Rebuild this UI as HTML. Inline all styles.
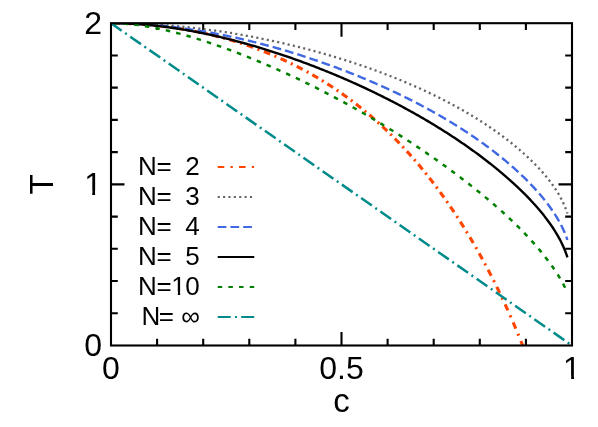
<!DOCTYPE html>
<html><head><meta charset="utf-8"><title>T vs c</title>
<style>html,body{margin:0;padding:0;background:#fff;width:598px;height:427px;overflow:hidden;font-family:"Liberation Sans",sans-serif}</style>
</head><body>
<svg width="598" height="427" viewBox="0 0 598 427" style="position:absolute;left:0;top:0;will-change:transform">
<rect width="598" height="427" fill="#fff"/>
<defs><clipPath id="cp"><rect x="111.0" y="23.2" width="461.0" height="322.3"/></clipPath></defs>
<g stroke="#000" stroke-width="2.1" fill="none" stroke-linecap="butt">
<path d="M157.10,345.5 v-6.8 M157.10,23.2 v6.8"/>
<path d="M203.20,345.5 v-6.8 M203.20,23.2 v6.8"/>
<path d="M249.30,345.5 v-6.8 M249.30,23.2 v6.8"/>
<path d="M295.40,345.5 v-6.8 M295.40,23.2 v6.8"/>
<path d="M341.50,345.5 v-13.5 M341.50,23.2 v13.5"/>
<path d="M387.60,345.5 v-6.8 M387.60,23.2 v6.8"/>
<path d="M433.70,345.5 v-6.8 M433.70,23.2 v6.8"/>
<path d="M479.80,345.5 v-6.8 M479.80,23.2 v6.8"/>
<path d="M525.90,345.5 v-6.8 M525.90,23.2 v6.8"/>
<path d="M111.0,313.27 h6.8 M572.0,313.27 h-6.8"/>
<path d="M111.0,281.04 h6.8 M572.0,281.04 h-6.8"/>
<path d="M111.0,248.81 h6.8 M572.0,248.81 h-6.8"/>
<path d="M111.0,216.58 h6.8 M572.0,216.58 h-6.8"/>
<path d="M111.0,184.35 h13.5 M572.0,184.35 h-13.5"/>
<path d="M111.0,152.12 h6.8 M572.0,152.12 h-6.8"/>
<path d="M111.0,119.89 h6.8 M572.0,119.89 h-6.8"/>
<path d="M111.0,87.66 h6.8 M572.0,87.66 h-6.8"/>
<path d="M111.0,55.43 h6.8 M572.0,55.43 h-6.8"/>
</g>
<g fill="none" clip-path="url(#cp)">
<path d="M111.00,23.20 L111.41,23.20 L111.83,23.20 L112.24,23.20 L112.66,23.20 L113.07,23.21 M117.57,23.25 L117.99,23.25 L118.41,23.26 L118.83,23.27 L119.25,23.27 L119.67,23.28 M124.17,23.39 L125.51,23.43 L126.85,23.48 L128.19,23.53 L129.53,23.58 L130.87,23.64 M135.36,23.86 L135.78,23.88 L136.20,23.90 L136.62,23.93 L137.04,23.95 L137.46,23.98 M141.95,24.26 L143.28,24.36 L144.62,24.46 L145.96,24.56 L147.29,24.67 L148.63,24.78 M153.11,25.18 L153.53,25.22 L153.95,25.27 L154.36,25.31 L154.78,25.35 L155.20,25.39 M159.67,25.86 L161.01,26.01 L162.34,26.17 L163.67,26.32 L165.00,26.49 L166.33,26.65 M170.79,27.24 L171.20,27.30 L171.62,27.36 L172.04,27.42 L172.45,27.48 L172.87,27.54 M177.32,28.20 L178.64,28.40 L179.97,28.61 L181.29,28.83 L182.61,29.04 L183.93,29.27 M188.37,30.05 L188.78,30.12 L189.19,30.20 L189.61,30.27 L190.02,30.35 L190.43,30.43 M194.85,31.28 L196.16,31.54 L197.48,31.80 L198.79,32.08 L200.10,32.35 L201.41,32.63 M205.81,33.60 L206.22,33.69 L206.62,33.79 L207.03,33.88 L207.44,33.97 L207.85,34.07 M212.23,35.11 L213.53,35.43 L214.83,35.75 L216.13,36.08 L217.43,36.41 L218.73,36.75 M223.07,37.91 L223.48,38.02 L223.88,38.13 L224.29,38.25 L224.69,38.36 L225.10,38.47 M229.43,39.70 L230.71,40.08 L232.00,40.46 L233.28,40.85 L234.56,41.24 L235.84,41.63 M240.13,42.99 L240.53,43.12 L240.93,43.25 L241.33,43.38 L241.73,43.51 L242.13,43.64 M246.73,45.18 L248.00,45.61 L249.26,46.05 L250.53,46.50 L251.79,46.95 L253.05,47.40 M257.55,49.05 L257.94,49.20 L258.33,49.35 L258.72,49.50 L259.12,49.65 L259.51,49.80 M263.92,51.51 L265.16,52.01 L266.41,52.51 L267.65,53.01 L268.89,53.52 L270.13,54.03 M274.43,55.85 L274.82,56.02 L275.20,56.18 L275.59,56.35 L275.97,56.52 L276.36,56.69 M280.58,58.56 L281.80,59.12 L283.02,59.68 L284.23,60.24 L285.45,60.81 L286.66,61.38 M290.78,63.36 L291.16,63.54 L291.54,63.73 L291.91,63.91 L292.29,64.10 L292.67,64.28 M296.71,66.32 L297.91,66.93 L299.10,67.55 L300.28,68.17 L301.47,68.79 L302.65,69.42 M306.60,71.55 L306.97,71.76 L307.34,71.96 L307.70,72.16 L308.07,72.37 L308.44,72.57 M312.31,74.76 L313.48,75.42 L314.64,76.09 L315.79,76.77 L316.95,77.45 L318.10,78.13 M321.88,80.42 L322.24,80.64 L322.60,80.86 L322.95,81.08 L323.31,81.30 L323.67,81.52 M327.38,83.86 L328.51,84.58 L329.64,85.30 L330.76,86.03 L331.88,86.77 L333.00,87.50 M336.62,89.93 L336.97,90.17 L337.31,90.41 L337.66,90.64 L338.01,90.88 L338.35,91.12 M341.91,93.60 L343.01,94.37 L344.10,95.15 L345.19,95.93 L346.27,96.72 L347.35,97.51 M350.82,100.08 L351.16,100.33 L351.50,100.58 L351.83,100.83 L352.17,101.09 L352.50,101.34 M355.91,103.96 L356.97,104.78 L358.03,105.61 L359.08,106.44 L360.13,107.28 L361.17,108.11 M364.50,110.82 L364.82,111.09 L365.15,111.36 L365.47,111.63 L365.79,111.89 L366.12,112.16 M369.39,114.92 L370.41,115.79 L371.43,116.67 L372.44,117.54 L373.45,118.42 L374.46,119.31 M377.65,122.15 L377.96,122.43 L378.27,122.72 L378.59,123.00 L378.90,123.28 L379.21,123.56 M382.35,126.46 L383.33,127.37 L384.31,128.29 L385.29,129.21 L386.26,130.13 L387.22,131.06 M390.29,134.04 L390.59,134.34 L390.89,134.63 L391.19,134.93 L391.49,135.22 L391.79,135.52 M394.82,138.55 L395.76,139.50 L396.70,140.46 L397.63,141.42 L398.56,142.38 L399.49,143.35 M402.45,146.47 L402.74,146.77 L403.02,147.08 L403.31,147.39 L403.60,147.69 L403.88,148.00 M406.80,151.17 L407.70,152.16 L408.60,153.16 L409.50,154.15 L410.39,155.15 L411.28,156.16 M414.13,159.41 L414.41,159.73 L414.68,160.04 L414.96,160.36 L415.23,160.68 L415.51,161.00 M418.33,164.31 L419.19,165.33 L420.05,166.36 L420.91,167.39 L421.76,168.42 L422.61,169.46 M425.37,172.85 L425.63,173.18 L425.90,173.51 L426.16,173.83 L426.42,174.16 L426.68,174.49 M429.41,177.94 L430.24,179.00 L431.06,180.06 L431.88,181.12 L432.70,182.18 L433.51,183.24 M436.19,186.78 L436.44,187.12 L436.69,187.45 L436.94,187.79 L437.19,188.13 L437.44,188.46 M440.09,192.06 L440.88,193.15 L441.67,194.23 L442.45,195.32 L443.23,196.41 L444.01,197.50 M446.60,201.18 L446.84,201.53 L447.08,201.87 L447.32,202.22 L447.56,202.56 L447.80,202.91 M450.38,206.66 L451.13,207.77 L451.88,208.88 L452.63,209.99 L453.38,211.10 L454.12,212.22 M456.65,216.06 L456.88,216.41 L457.11,216.76 L457.34,217.11 L457.57,217.47 L457.79,217.82 M460.31,221.73 L461.03,222.86 L461.74,223.99 L462.46,225.13 L463.17,226.26 L463.88,227.40 M466.34,231.40 L466.56,231.76 L466.78,232.12 L467.00,232.48 L467.22,232.84 L467.44,233.19 M469.89,237.27 L470.58,238.42 L471.26,239.58 L471.94,240.73 L472.62,241.89 L473.30,243.04 M475.71,247.22 L475.92,247.58 L476.13,247.94 L476.34,248.31 L476.55,248.67 L476.75,249.04 M479.16,253.29 L479.81,254.46 L480.46,255.63 L481.11,256.81 L481.76,257.98 L482.40,259.15 M484.76,263.51 L484.96,263.88 L485.16,264.25 L485.36,264.62 L485.56,264.99 L485.76,265.36 M488.11,269.80 L488.73,270.99 L489.35,272.17 L489.97,273.36 L490.59,274.55 L491.20,275.75 M493.52,280.29 L493.71,280.67 L493.90,281.04 L494.09,281.42 L494.27,281.79 L494.46,282.17 M496.77,286.81 L497.36,288.01 L497.95,289.21 L498.54,290.42 L499.12,291.62 L499.70,292.83 M501.97,297.58 L502.15,297.96 L502.33,298.34 L502.51,298.72 L502.69,299.10 L502.87,299.48 M505.13,304.33 L505.69,305.55 L506.24,306.77 L506.80,307.99 L507.35,309.21 L507.91,310.43 M510.12,315.40 L510.29,315.78 L510.46,316.17 L510.63,316.55 L510.80,316.94 L510.97,317.32 M513.17,322.40 L513.70,323.63 L514.23,324.86 L514.75,326.10 L515.27,327.33 L515.79,328.57 M517.95,333.77 L518.11,334.16 L518.27,334.55 L518.42,334.94 L518.58,335.33 L518.74,335.71 M520.88,341.04 L521.37,342.28 L521.87,343.53 L522.35,344.78 L522.84,346.02 L523.33,347.27" stroke="#ff4500" stroke-width="3.1"/>
<path d="M111.00,23.20 L112.83,23.20 L114.65,23.21 L116.48,23.22 L118.30,23.24 L120.12,23.26 L121.93,23.28 L123.74,23.31 L125.55,23.35 L127.36,23.39 L129.16,23.43 L130.96,23.48 L132.76,23.53 L134.56,23.59 L136.35,23.65 L138.14,23.71 L139.93,23.78 L141.71,23.86 L143.49,23.94 L145.27,24.02 L147.05,24.11 L148.82,24.20 L150.59,24.29 L152.36,24.39 L154.13,24.49 L155.89,24.60 L157.65,24.71 L159.40,24.83 L161.16,24.95 L162.91,25.07 L164.65,25.20 L166.40,25.33 L168.14,25.46 L169.88,25.60 L171.62,25.75 L173.35,25.89 L175.08,26.04 L176.81,26.20 L178.53,26.36 L180.26,26.52 L181.97,26.68 L183.69,26.85 L185.40,27.02 L187.12,27.20 L188.82,27.38 L190.53,27.56 L192.23,27.75 L193.93,27.94 L195.62,28.14 L197.32,28.33 L199.01,28.53 L200.70,28.74 L202.38,28.95 L204.06,29.16 L205.74,29.37 L207.42,29.59 L209.09,29.81 L210.76,30.04 L212.43,30.26 L214.09,30.50 L215.75,30.73 L217.41,30.97 L219.07,31.21 L220.72,31.45 L222.37,31.70 L224.01,31.95 L225.66,32.20 L227.30,32.46 L228.93,32.72 L230.57,32.98 L232.20,33.24 L233.83,33.51 L235.46,33.78 L237.08,34.06 L238.70,34.33 L240.31,34.61 L241.93,34.90 L243.54,35.18 L245.15,35.47 L246.75,35.76 L248.35,36.05 L249.95,36.35 L251.55,36.65 L253.14,36.95 L254.73,37.26 L256.32,37.57 L257.90,37.88 L259.48,38.19 L261.06,38.50 L262.63,38.82 L264.20,39.14 L265.77,39.47 L267.34,39.79 L268.90,40.12 L270.46,40.45 L272.02,40.78 L273.57,41.12 L275.12,41.46 L276.67,41.80 L278.21,42.14 L279.75,42.49 L281.29,42.84 L282.82,43.19 L284.35,43.54 L285.88,43.90 L287.41,44.25 L288.93,44.61 L290.45,44.98 L291.97,45.34 L293.48,45.71 L294.99,46.08 L296.50,46.45 L298.00,46.82 L299.50,47.20 L301.00,47.58 L302.49,47.96 L303.98,48.34 L305.47,48.72 L306.95,49.11 L308.43,49.50 L309.91,49.89 L311.39,50.29 L312.86,50.68 L314.33,51.08 L315.79,51.48 L317.26,51.88 L318.72,52.29 L320.17,52.69 L321.62,53.10 L323.07,53.51 L324.52,53.92 L325.96,54.34 L327.40,54.75 L328.84,55.17 L330.27,55.59 L331.70,56.01 L333.13,56.44 L334.55,56.86 L335.97,57.29 L337.39,57.72 L338.80,58.15 L340.21,58.59 L341.62,59.03 L343.03,59.46 L344.43,59.90 L345.82,60.34 L347.22,60.79 L348.61,61.23 L350.00,61.68 L351.38,62.13 L352.76,62.58 L354.14,63.04 L355.51,63.49 L356.88,63.95 L358.25,64.41 L359.62,64.87 L360.98,65.33 L362.33,65.79 L363.69,66.26 L365.04,66.73 L366.39,67.20 L367.73,67.67 L369.07,68.14 L370.41,68.62 L371.74,69.09 L373.07,69.57 L374.40,70.05 L375.72,70.53 L377.04,71.02 L378.36,71.50 L379.67,71.99 L380.98,72.48 L382.29,72.97 L383.59,73.46 L384.89,73.96 L386.19,74.46 L387.48,74.95 L388.77,75.45 L390.06,75.95 L391.34,76.46 L392.62,76.96 L393.89,77.47 L395.16,77.98 L396.43,78.49 L397.70,79.00 L398.96,79.51 L400.22,80.03 L401.47,80.54 L402.72,81.06 L403.97,81.58 L405.21,82.10 L406.45,82.63 L407.69,83.15 L408.92,83.68 L410.15,84.21 L411.37,84.74 L412.60,85.27 L413.81,85.80 L415.03,86.34 L416.24,86.88 L417.45,87.42 L418.65,87.96 L419.85,88.50 L421.05,89.04 L422.24,89.59 L423.43,90.13 L424.62,90.68 L425.80,91.23 L426.98,91.78 L428.15,92.34 L429.32,92.89 L430.49,93.45 L431.65,94.01 L432.81,94.57 L433.97,95.13 L435.12,95.69 L436.27,96.25 L437.41,96.82 L438.55,97.39 L439.69,97.96 L440.82,98.53 L441.95,99.10 L443.08,99.67 L444.20,100.25 L445.32,100.83 L446.43,101.41 L447.54,101.99 L448.65,102.57 L449.75,103.15 L450.85,103.74 L451.95,104.32 L453.04,104.91 L454.12,105.50 L455.21,106.09 L456.29,106.68 L457.36,107.28 L458.43,107.87 L459.50,108.47 L460.57,109.07 L461.63,109.67 L462.68,110.27 L463.73,110.87 L464.78,111.48 L465.82,112.08 L466.86,112.69 L467.90,113.30 L468.93,113.91 L469.96,114.52 L470.98,115.14 L472.00,115.75 L473.02,116.37 L474.03,116.98 L475.04,117.60 L476.04,118.22 L477.04,118.84 L478.03,119.47 L479.03,120.09 L480.01,120.72 L480.99,121.34 L481.97,121.97 L482.95,122.60 L483.92,123.23 L484.88,123.87 L485.84,124.50 L486.80,125.13 L487.76,125.77 L488.70,126.41 L489.65,127.05 L490.59,127.69 L491.53,128.33 L492.46,128.97 L493.38,129.61 L494.31,130.26 L495.23,130.91 L496.14,131.55 L497.05,132.20 L497.96,132.85 L498.86,133.50 L499.75,134.15 L500.65,134.81 L501.53,135.46 L502.42,136.12 L503.30,136.77 L504.17,137.43 L505.04,138.09 L505.91,138.75 L506.77,139.41 L507.62,140.07 L508.47,140.73 L509.32,141.40 L510.16,142.06 L511.00,142.73 L511.83,143.40 L512.66,144.06 L513.49,144.73 L514.31,145.40 L515.12,146.07 L515.93,146.74 L516.74,147.42 L517.54,148.09 L518.33,148.76 L519.12,149.44 L519.91,150.11 L520.69,150.79 L521.46,151.47 L522.24,152.15 L523.00,152.83 L523.76,153.51 L524.52,154.19 L525.27,154.87 L526.02,155.55 L526.76,156.23 L527.50,156.92 L528.23,157.60 L528.95,158.29 L529.67,158.97 L530.39,159.66 L531.10,160.35 L531.81,161.04 L532.51,161.72 L533.20,162.41 L533.89,163.10 L534.58,163.79 L535.26,164.49 L535.93,165.18 L536.60,165.87 L537.26,166.56 L537.92,167.26 L538.57,167.95 L539.22,168.65 L539.86,169.34 L540.50,170.04 L541.13,170.73 L541.75,171.43 L542.37,172.13 L542.98,172.83 L543.59,173.53 L544.19,174.22 L544.79,174.92 L545.38,175.62 L545.96,176.33 L546.54,177.03 L547.11,177.73 L547.68,178.43 L548.24,179.13 L548.80,179.84 L549.34,180.54 L549.89,181.24 L550.42,181.95 L550.95,182.65 L551.47,183.36 L551.99,184.06 L552.50,184.77 L553.01,185.48 L553.50,186.18 L553.99,186.89 L554.48,187.60 L554.96,188.30 L555.43,189.01 L555.89,189.72 L556.35,190.43 L556.80,191.13 L557.24,191.84 L557.68,192.55 L558.10,193.25 L558.53,193.96 L558.94,194.66 L559.35,195.37 L559.74,196.07 L560.14,196.77 L560.52,197.48 L560.90,198.17 L561.26,198.87 L561.62,199.57 L561.97,200.26 L562.32,200.95 L562.65,201.63 L562.98,202.32 L563.29,202.99 L563.60,203.66 L563.90,204.33 L564.19,204.99 L564.47,205.64 L564.74,206.28 L565.00,206.91 L565.25,207.53 L565.49,208.14 L565.72,208.73 L565.94,209.30 L566.15,209.86 L566.34,210.39 L566.52,210.90 L566.69,211.38 L566.85,211.83 L566.99,212.25 L567.11,212.62 L567.22,212.95 L567.30,213.22 L567.37,213.42 L567.40,213.51" stroke="#646464" stroke-width="2.3" stroke-dasharray="2.1 3.24" stroke-dashoffset="-2.03"/>
<path d="M111.00,23.20 L112.83,23.20 L114.65,23.21 L116.48,23.23 L118.30,23.25 L120.12,23.29 L121.93,23.32 L123.74,23.37 L125.55,23.42 L127.36,23.47 L129.16,23.54 L130.96,23.61 L132.76,23.68 L134.56,23.76 L136.35,23.85 L138.14,23.95 L139.93,24.05 L141.71,24.15 L143.49,24.27 L145.27,24.38 L147.05,24.51 L148.82,24.64 L150.59,24.77 L152.36,24.91 L154.13,25.06 L155.89,25.21 L157.65,25.37 L159.40,25.53 L161.16,25.70 L162.91,25.87 L164.65,26.05 L166.40,26.23 L168.14,26.42 L169.88,26.62 L171.62,26.82 L173.35,27.02 L175.08,27.23 L176.81,27.44 L178.53,27.66 L180.26,27.89 L181.97,28.11 L183.69,28.35 L185.40,28.58 L187.12,28.83 L188.82,29.07 L190.53,29.32 L192.23,29.58 L193.93,29.84 L195.62,30.10 L197.32,30.37 L199.01,30.65 L200.70,30.92 L202.38,31.21 L204.06,31.49 L205.74,31.78 L207.42,32.08 L209.09,32.37 L210.76,32.68 L212.43,32.98 L214.09,33.29 L215.75,33.61 L217.41,33.92 L219.07,34.24 L220.72,34.57 L222.37,34.90 L224.01,35.23 L225.66,35.57 L227.30,35.91 L228.93,36.25 L230.57,36.60 L232.20,36.95 L233.83,37.30 L235.46,37.66 L237.08,38.02 L238.70,38.39 L240.31,38.75 L241.93,39.12 L243.54,39.50 L245.15,39.88 L246.75,40.26 L248.35,40.64 L249.95,41.03 L251.55,41.42 L253.14,41.81 L254.73,42.21 L256.32,42.61 L257.90,43.01 L259.48,43.41 L261.06,43.82 L262.63,44.23 L264.20,44.65 L265.77,45.06 L267.34,45.48 L268.90,45.91 L270.46,46.33 L272.02,46.76 L273.57,47.19 L275.12,47.62 L276.67,48.06 L278.21,48.50 L279.75,48.94 L281.29,49.38 L282.82,49.83 L284.35,50.28 L285.88,50.73 L287.41,51.18 L288.93,51.64 L290.45,52.10 L291.97,52.56 L293.48,53.03 L294.99,53.49 L296.50,53.96 L298.00,54.43 L299.50,54.91 L301.00,55.38 L302.49,55.86 L303.98,56.34 L305.47,56.82 L306.95,57.31 L308.43,57.80 L309.91,58.29 L311.39,58.78 L312.86,59.27 L314.33,59.77 L315.79,60.26 L317.26,60.76 L318.72,61.27 L320.17,61.77 L321.62,62.28 L323.07,62.79 L324.52,63.30 L325.96,63.81 L327.40,64.32 L328.84,64.84 L330.27,65.36 L331.70,65.88 L333.13,66.40 L334.55,66.93 L335.97,67.45 L337.39,67.98 L338.80,68.51 L340.21,69.04 L341.62,69.58 L343.03,70.11 L344.43,70.65 L345.82,71.19 L347.22,71.73 L348.61,72.28 L350.00,72.82 L351.38,73.37 L352.76,73.92 L354.14,74.47 L355.51,75.02 L356.88,75.57 L358.25,76.13 L359.62,76.68 L360.98,77.24 L362.33,77.80 L363.69,78.37 L365.04,78.93 L366.39,79.50 L367.73,80.06 L369.07,80.63 L370.41,81.20 L371.74,81.78 L373.07,82.35 L374.40,82.93 L375.72,83.50 L377.04,84.08 L378.36,84.66 L379.67,85.25 L380.98,85.83 L382.29,86.41 L383.59,87.00 L384.89,87.59 L386.19,88.18 L387.48,88.77 L388.77,89.36 L390.06,89.96 L391.34,90.55 L392.62,91.15 L393.89,91.75 L395.16,92.35 L396.43,92.95 L397.70,93.56 L398.96,94.16 L400.22,94.77 L401.47,95.38 L402.72,95.99 L403.97,96.60 L405.21,97.21 L406.45,97.83 L407.69,98.44 L408.92,99.06 L410.15,99.68 L411.37,100.30 L412.60,100.92 L413.81,101.54 L415.03,102.16 L416.24,102.79 L417.45,103.42 L418.65,104.04 L419.85,104.67 L421.05,105.30 L422.24,105.94 L423.43,106.57 L424.62,107.21 L425.80,107.84 L426.98,108.48 L428.15,109.12 L429.32,109.76 L430.49,110.40 L431.65,111.04 L432.81,111.69 L433.97,112.33 L435.12,112.98 L436.27,113.63 L437.41,114.28 L438.55,114.93 L439.69,115.58 L440.82,116.24 L441.95,116.89 L443.08,117.55 L444.20,118.21 L445.32,118.86 L446.43,119.52 L447.54,120.19 L448.65,120.85 L449.75,121.51 L450.85,122.18 L451.95,122.84 L453.04,123.51 L454.12,124.18 L455.21,124.85 L456.29,125.52 L457.36,126.19 L458.43,126.87 L459.50,127.54 L460.57,128.22 L461.63,128.89 L462.68,129.57 L463.73,130.25 L464.78,130.93 L465.82,131.61 L466.86,132.30 L467.90,132.98 L468.93,133.66 L469.96,134.35 L470.98,135.04 L472.00,135.73 L473.02,136.42 L474.03,137.11 L475.04,137.80 L476.04,138.49 L477.04,139.18 L478.03,139.88 L479.03,140.57 L480.01,141.27 L480.99,141.97 L481.97,142.67 L482.95,143.37 L483.92,144.07 L484.88,144.77 L485.84,145.47 L486.80,146.18 L487.76,146.88 L488.70,147.59 L489.65,148.30 L490.59,149.00 L491.53,149.71 L492.46,150.42 L493.38,151.13 L494.31,151.84 L495.23,152.56 L496.14,153.27 L497.05,153.98 L497.96,154.70 L498.86,155.41 L499.75,156.13 L500.65,156.85 L501.53,157.57 L502.42,158.29 L503.30,159.01 L504.17,159.73 L505.04,160.45 L505.91,161.17 L506.77,161.89 L507.62,162.62 L508.47,163.34 L509.32,164.07 L510.16,164.79 L511.00,165.52 L511.83,166.25 L512.66,166.98 L513.49,167.70 L514.31,168.43 L515.12,169.16 L515.93,169.89 L516.74,170.63 L517.54,171.36 L518.33,172.09 L519.12,172.82 L519.91,173.56 L520.69,174.29 L521.46,175.03 L522.24,175.76 L523.00,176.50 L523.76,177.23 L524.52,177.97 L525.27,178.71 L526.02,179.45 L526.76,180.18 L527.50,180.92 L528.23,181.66 L528.95,182.40 L529.67,183.14 L530.39,183.88 L531.10,184.62 L531.81,185.36 L532.51,186.11 L533.20,186.85 L533.89,187.59 L534.58,188.33 L535.26,189.08 L535.93,189.82 L536.60,190.56 L537.26,191.31 L537.92,192.05 L538.57,192.80 L539.22,193.54 L539.86,194.29 L540.50,195.03 L541.13,195.78 L541.75,196.52 L542.37,197.27 L542.98,198.01 L543.59,198.76 L544.19,199.50 L544.79,200.25 L545.38,201.00 L545.96,201.74 L546.54,202.49 L547.11,203.23 L547.68,203.98 L548.24,204.73 L548.80,205.47 L549.34,206.22 L549.89,206.96 L550.42,207.71 L550.95,208.45 L551.47,209.20 L551.99,209.94 L552.50,210.69 L553.01,211.43 L553.50,212.17 L553.99,212.92 L554.48,213.66 L554.96,214.40 L555.43,215.14 L555.89,215.88 L556.35,216.62 L556.80,217.36 L557.24,218.09 L557.68,218.83 L558.10,219.56 L558.53,220.29 L558.94,221.03 L559.35,221.75 L559.74,222.48 L560.14,223.20 L560.52,223.92 L560.90,224.64 L561.26,225.36 L561.62,226.07 L561.97,226.78 L562.32,227.48 L562.65,228.18 L562.98,228.87 L563.29,229.55 L563.60,230.23 L563.90,230.90 L564.19,231.57 L564.47,232.22 L564.74,232.86 L565.00,233.49 L565.25,234.11 L565.49,234.71 L565.72,235.30 L565.94,235.87 L566.15,236.42 L566.34,236.95 L566.52,237.45 L566.69,237.92 L566.85,238.36 L566.99,238.77 L567.11,239.13 L567.22,239.45 L567.30,239.71 L567.37,239.90 L567.40,240.00" stroke="#3f68e2" stroke-width="2.4" stroke-dasharray="8.75 4.08" stroke-dashoffset="2.9"/>
<path d="M111.00,23.20 L112.83,23.20 L114.65,23.22 L116.48,23.24 L118.30,23.27 L120.12,23.31 L121.93,23.36 L123.74,23.42 L125.55,23.48 L127.36,23.55 L129.16,23.63 L130.96,23.72 L132.76,23.82 L134.56,23.93 L136.35,24.04 L138.14,24.16 L139.93,24.29 L141.71,24.42 L143.49,24.56 L145.27,24.71 L147.05,24.87 L148.82,25.03 L150.59,25.20 L152.36,25.38 L154.13,25.56 L155.89,25.75 L157.65,25.95 L159.40,26.15 L161.16,26.36 L162.91,26.58 L164.65,26.80 L166.40,27.03 L168.14,27.27 L169.88,27.51 L171.62,27.76 L173.35,28.01 L175.08,28.27 L176.81,28.53 L178.53,28.80 L180.26,29.08 L181.97,29.36 L183.69,29.64 L185.40,29.93 L187.12,30.23 L188.82,30.53 L190.53,30.84 L192.23,31.15 L193.93,31.47 L195.62,31.79 L197.32,32.12 L199.01,32.45 L200.70,32.79 L202.38,33.13 L204.06,33.48 L205.74,33.83 L207.42,34.18 L209.09,34.54 L210.76,34.91 L212.43,35.27 L214.09,35.65 L215.75,36.02 L217.41,36.41 L219.07,36.79 L220.72,37.18 L222.37,37.57 L224.01,37.97 L225.66,38.37 L227.30,38.78 L228.93,39.19 L230.57,39.60 L232.20,40.02 L233.83,40.44 L235.46,40.86 L237.08,41.29 L238.70,41.72 L240.31,42.15 L241.93,42.59 L243.54,43.03 L245.15,43.48 L246.75,43.93 L248.35,44.38 L249.95,44.84 L251.55,45.29 L253.14,45.76 L254.73,46.22 L256.32,46.69 L257.90,47.16 L259.48,47.63 L261.06,48.11 L262.63,48.59 L264.20,49.07 L265.77,49.56 L267.34,50.05 L268.90,50.54 L270.46,51.03 L272.02,51.53 L273.57,52.03 L275.12,52.54 L276.67,53.04 L278.21,53.55 L279.75,54.06 L281.29,54.57 L282.82,55.09 L284.35,55.61 L285.88,56.13 L287.41,56.65 L288.93,57.18 L290.45,57.71 L291.97,58.24 L293.48,58.77 L294.99,59.31 L296.50,59.85 L298.00,60.39 L299.50,60.93 L301.00,61.48 L302.49,62.02 L303.98,62.57 L305.47,63.13 L306.95,63.68 L308.43,64.24 L309.91,64.80 L311.39,65.36 L312.86,65.92 L314.33,66.48 L315.79,67.05 L317.26,67.62 L318.72,68.19 L320.17,68.76 L321.62,69.34 L323.07,69.92 L324.52,70.50 L325.96,71.08 L327.40,71.66 L328.84,72.25 L330.27,72.83 L331.70,73.42 L333.13,74.01 L334.55,74.60 L335.97,75.20 L337.39,75.79 L338.80,76.39 L340.21,76.99 L341.62,77.59 L343.03,78.20 L344.43,78.80 L345.82,79.41 L347.22,80.02 L348.61,80.63 L350.00,81.24 L351.38,81.85 L352.76,82.47 L354.14,83.09 L355.51,83.71 L356.88,84.33 L358.25,84.95 L359.62,85.57 L360.98,86.20 L362.33,86.82 L363.69,87.45 L365.04,88.08 L366.39,88.71 L367.73,89.35 L369.07,89.98 L370.41,90.62 L371.74,91.25 L373.07,91.89 L374.40,92.53 L375.72,93.18 L377.04,93.82 L378.36,94.47 L379.67,95.11 L380.98,95.76 L382.29,96.41 L383.59,97.06 L384.89,97.71 L386.19,98.36 L387.48,99.02 L388.77,99.68 L390.06,100.33 L391.34,100.99 L392.62,101.65 L393.89,102.31 L395.16,102.98 L396.43,103.64 L397.70,104.31 L398.96,104.97 L400.22,105.64 L401.47,106.31 L402.72,106.98 L403.97,107.66 L405.21,108.33 L406.45,109.00 L407.69,109.68 L408.92,110.36 L410.15,111.03 L411.37,111.71 L412.60,112.39 L413.81,113.08 L415.03,113.76 L416.24,114.44 L417.45,115.13 L418.65,115.81 L419.85,116.50 L421.05,117.19 L422.24,117.88 L423.43,118.57 L424.62,119.26 L425.80,119.96 L426.98,120.65 L428.15,121.35 L429.32,122.04 L430.49,122.74 L431.65,123.44 L432.81,124.14 L433.97,124.84 L435.12,125.54 L436.27,126.24 L437.41,126.95 L438.55,127.65 L439.69,128.36 L440.82,129.06 L441.95,129.77 L443.08,130.48 L444.20,131.19 L445.32,131.90 L446.43,132.61 L447.54,133.32 L448.65,134.03 L449.75,134.75 L450.85,135.46 L451.95,136.18 L453.04,136.89 L454.12,137.61 L455.21,138.33 L456.29,139.05 L457.36,139.77 L458.43,140.49 L459.50,141.21 L460.57,141.93 L461.63,142.66 L462.68,143.38 L463.73,144.11 L464.78,144.83 L465.82,145.56 L466.86,146.28 L467.90,147.01 L468.93,147.74 L469.96,148.47 L470.98,149.20 L472.00,149.93 L473.02,150.66 L474.03,151.39 L475.04,152.13 L476.04,152.86 L477.04,153.59 L478.03,154.33 L479.03,155.06 L480.01,155.80 L480.99,156.53 L481.97,157.27 L482.95,158.01 L483.92,158.75 L484.88,159.48 L485.84,160.22 L486.80,160.96 L487.76,161.70 L488.70,162.44 L489.65,163.19 L490.59,163.93 L491.53,164.67 L492.46,165.41 L493.38,166.16 L494.31,166.90 L495.23,167.64 L496.14,168.39 L497.05,169.13 L497.96,169.88 L498.86,170.62 L499.75,171.37 L500.65,172.12 L501.53,172.86 L502.42,173.61 L503.30,174.36 L504.17,175.11 L505.04,175.85 L505.91,176.60 L506.77,177.35 L507.62,178.10 L508.47,178.85 L509.32,179.60 L510.16,180.35 L511.00,181.10 L511.83,181.85 L512.66,182.61 L513.49,183.36 L514.31,184.11 L515.12,184.86 L515.93,185.61 L516.74,186.37 L517.54,187.12 L518.33,187.87 L519.12,188.63 L519.91,189.38 L520.69,190.13 L521.46,190.89 L522.24,191.64 L523.00,192.40 L523.76,193.15 L524.52,193.91 L525.27,194.66 L526.02,195.42 L526.76,196.17 L527.50,196.93 L528.23,197.68 L528.95,198.44 L529.67,199.19 L530.39,199.95 L531.10,200.71 L531.81,201.46 L532.51,202.22 L533.20,202.98 L533.89,203.73 L534.58,204.49 L535.26,205.25 L535.93,206.01 L536.60,206.76 L537.26,207.52 L537.92,208.28 L538.57,209.04 L539.22,209.80 L539.86,210.55 L540.50,211.31 L541.13,212.07 L541.75,212.83 L542.37,213.59 L542.98,214.35 L543.59,215.11 L544.19,215.87 L544.79,216.63 L545.38,217.39 L545.96,218.14 L546.54,218.90 L547.11,219.66 L547.68,220.42 L548.24,221.18 L548.80,221.94 L549.34,222.70 L549.89,223.46 L550.42,224.22 L550.95,224.98 L551.47,225.74 L551.99,226.50 L552.50,227.26 L553.01,228.02 L553.50,228.77 L553.99,229.53 L554.48,230.29 L554.96,231.05 L555.43,231.80 L555.89,232.56 L556.35,233.31 L556.80,234.07 L557.24,234.82 L557.68,235.57 L558.10,236.33 L558.53,237.07 L558.94,237.82 L559.35,238.57 L559.74,239.31 L560.14,240.06 L560.52,240.80 L560.90,241.53 L561.26,242.27 L561.62,243.00 L561.97,243.72 L562.32,244.44 L562.65,245.16 L562.98,245.87 L563.29,246.58 L563.60,247.28 L563.90,247.97 L564.19,248.65 L564.47,249.32 L564.74,249.98 L565.00,250.63 L565.25,251.27 L565.49,251.89 L565.72,252.50 L565.94,253.08 L566.15,253.65 L566.34,254.19 L566.52,254.71 L566.69,255.20 L566.85,255.65 L566.99,256.07 L567.11,256.44 L567.22,256.77 L567.30,257.04 L567.37,257.24 L567.40,257.34" stroke="#000" stroke-width="2.4"/>
<path d="M111.00,23.20 L112.83,23.21 L114.65,23.24 L116.48,23.28 L118.30,23.35 L120.12,23.43 L121.93,23.53 L123.74,23.64 L125.55,23.77 L127.36,23.92 L129.16,24.08 L130.96,24.26 L132.76,24.45 L134.56,24.65 L136.35,24.87 L138.14,25.11 L139.93,25.35 L141.71,25.61 L143.49,25.88 L145.27,26.16 L147.05,26.45 L148.82,26.76 L150.59,27.07 L152.36,27.40 L154.13,27.73 L155.89,28.08 L157.65,28.44 L159.40,28.80 L161.16,29.18 L162.91,29.57 L164.65,29.96 L166.40,30.36 L168.14,30.77 L169.88,31.19 L171.62,31.62 L173.35,32.05 L175.08,32.49 L176.81,32.94 L178.53,33.40 L180.26,33.87 L181.97,34.34 L183.69,34.81 L185.40,35.30 L187.12,35.79 L188.82,36.28 L190.53,36.78 L192.23,37.29 L193.93,37.80 L195.62,38.32 L197.32,38.85 L199.01,39.38 L200.70,39.91 L202.38,40.45 L204.06,41.00 L205.74,41.55 L207.42,42.10 L209.09,42.66 L210.76,43.22 L212.43,43.79 L214.09,44.36 L215.75,44.93 L217.41,45.51 L219.07,46.10 L220.72,46.68 L222.37,47.27 L224.01,47.87 L225.66,48.47 L227.30,49.07 L228.93,49.67 L230.57,50.28 L232.20,50.89 L233.83,51.51 L235.46,52.13 L237.08,52.75 L238.70,53.37 L240.31,54.00 L241.93,54.63 L243.54,55.26 L245.15,55.90 L246.75,56.54 L248.35,57.18 L249.95,57.82 L251.55,58.47 L253.14,59.12 L254.73,59.77 L256.32,60.43 L257.90,61.09 L259.48,61.74 L261.06,62.41 L262.63,63.07 L264.20,63.74 L265.77,64.41 L267.34,65.08 L268.90,65.75 L270.46,66.43 L272.02,67.11 L273.57,67.79 L275.12,68.47 L276.67,69.15 L278.21,69.84 L279.75,70.53 L281.29,71.22 L282.82,71.91 L284.35,72.61 L285.88,73.30 L287.41,74.00 L288.93,74.70 L290.45,75.41 L291.97,76.11 L293.48,76.82 L294.99,77.53 L296.50,78.24 L298.00,78.95 L299.50,79.66 L301.00,80.38 L302.49,81.10 L303.98,81.82 L305.47,82.54 L306.95,83.26 L308.43,83.98 L309.91,84.71 L311.39,85.44 L312.86,86.17 L314.33,86.90 L315.79,87.63 L317.26,88.37 L318.72,89.10 L320.17,89.84 L321.62,90.58 L323.07,91.32 L324.52,92.06 L325.96,92.81 L327.40,93.55 L328.84,94.30 L330.27,95.05 L331.70,95.80 L333.13,96.55 L334.55,97.30 L335.97,98.06 L337.39,98.81 L338.80,99.57 L340.21,100.33 L341.62,101.09 L343.03,101.85 L344.43,102.62 L345.82,103.38 L347.22,104.14 L348.61,104.91 L350.00,105.68 L351.38,106.45 L352.76,107.22 L354.14,107.99 L355.51,108.76 L356.88,109.54 L358.25,110.31 L359.62,111.09 L360.98,111.87 L362.33,112.65 L363.69,113.43 L365.04,114.21 L366.39,114.99 L367.73,115.77 L369.07,116.55 L370.41,117.34 L371.74,118.13 L373.07,118.91 L374.40,119.70 L375.72,120.49 L377.04,121.28 L378.36,122.07 L379.67,122.86 L380.98,123.65 L382.29,124.44 L383.59,125.24 L384.89,126.03 L386.19,126.83 L387.48,127.62 L388.77,128.42 L390.06,129.22 L391.34,130.01 L392.62,130.81 L393.89,131.61 L395.16,132.41 L396.43,133.21 L397.70,134.01 L398.96,134.81 L400.22,135.62 L401.47,136.42 L402.72,137.22 L403.97,138.03 L405.21,138.83 L406.45,139.63 L407.69,140.44 L408.92,141.24 L410.15,142.05 L411.37,142.85 L412.60,143.66 L413.81,144.47 L415.03,145.27 L416.24,146.08 L417.45,146.89 L418.65,147.69 L419.85,148.50 L421.05,149.31 L422.24,150.12 L423.43,150.93 L424.62,151.73 L425.80,152.54 L426.98,153.35 L428.15,154.16 L429.32,154.97 L430.49,155.78 L431.65,156.58 L432.81,157.39 L433.97,158.20 L435.12,159.01 L436.27,159.82 L437.41,160.63 L438.55,161.44 L439.69,162.24 L440.82,163.05 L441.95,163.86 L443.08,164.67 L444.20,165.48 L445.32,166.28 L446.43,167.09 L447.54,167.90 L448.65,168.71 L449.75,169.51 L450.85,170.32 L451.95,171.13 L453.04,171.94 L454.12,172.74 L455.21,173.55 L456.29,174.35 L457.36,175.16 L458.43,175.97 L459.50,176.77 L460.57,177.58 L461.63,178.38 L462.68,179.19 L463.73,179.99 L464.78,180.79 L465.82,181.60 L466.86,182.40 L467.90,183.20 L468.93,184.01 L469.96,184.81 L470.98,185.61 L472.00,186.41 L473.02,187.22 L474.03,188.02 L475.04,188.82 L476.04,189.62 L477.04,190.42 L478.03,191.22 L479.03,192.02 L480.01,192.82 L480.99,193.62 L481.97,194.42 L482.95,195.22 L483.92,196.02 L484.88,196.81 L485.84,197.61 L486.80,198.41 L487.76,199.21 L488.70,200.00 L489.65,200.80 L490.59,201.60 L491.53,202.39 L492.46,203.19 L493.38,203.99 L494.31,204.78 L495.23,205.58 L496.14,206.37 L497.05,207.17 L497.96,207.96 L498.86,208.76 L499.75,209.55 L500.65,210.34 L501.53,211.14 L502.42,211.93 L503.30,212.72 L504.17,213.51 L505.04,214.31 L505.91,215.10 L506.77,215.89 L507.62,216.68 L508.47,217.47 L509.32,218.27 L510.16,219.06 L511.00,219.85 L511.83,220.64 L512.66,221.43 L513.49,222.22 L514.31,223.01 L515.12,223.79 L515.93,224.58 L516.74,225.37 L517.54,226.16 L518.33,226.95 L519.12,227.73 L519.91,228.52 L520.69,229.31 L521.46,230.09 L522.24,230.88 L523.00,231.67 L523.76,232.45 L524.52,233.24 L525.27,234.02 L526.02,234.80 L526.76,235.59 L527.50,236.37 L528.23,237.15 L528.95,237.93 L529.67,238.71 L530.39,239.49 L531.10,240.27 L531.81,241.05 L532.51,241.83 L533.20,242.60 L533.89,243.38 L534.58,244.16 L535.26,244.93 L535.93,245.70 L536.60,246.48 L537.26,247.25 L537.92,248.02 L538.57,248.79 L539.22,249.56 L539.86,250.32 L540.50,251.09 L541.13,251.85 L541.75,252.62 L542.37,253.38 L542.98,254.14 L543.59,254.89 L544.19,255.65 L544.79,256.41 L545.38,257.16 L545.96,257.91 L546.54,258.66 L547.11,259.41 L547.68,260.15 L548.24,260.90 L548.80,261.64 L549.34,262.38 L549.89,263.11 L550.42,263.85 L550.95,264.58 L551.47,265.31 L551.99,266.03 L552.50,266.76 L553.01,267.48 L553.50,268.19 L553.99,268.91 L554.48,269.62 L554.96,270.33 L555.43,271.03 L555.89,271.73 L556.35,272.43 L556.80,273.12 L557.24,273.81 L557.68,274.49 L558.10,275.18 L558.53,275.85 L558.94,276.52 L559.35,277.19 L559.74,277.85 L560.14,278.51 L560.52,279.16 L560.90,279.81 L561.26,280.45 L561.62,281.08 L561.97,281.71 L562.32,282.33 L562.65,282.95 L562.98,283.56 L563.29,284.15 L563.60,284.75 L563.90,285.33 L564.19,285.90 L564.47,286.46 L564.74,287.02 L565.00,287.56 L565.25,288.08 L565.49,288.60 L565.72,289.09 L565.94,289.58 L566.15,290.04 L566.34,290.48 L566.52,290.91 L566.69,291.30 L566.85,291.67 L566.99,292.01 L567.11,292.32 L567.22,292.58 L567.30,292.80 L567.37,292.97 L567.40,293.05" stroke="#008000" stroke-width="2.5" stroke-dasharray="4.5 6.17" stroke-dashoffset="-2.0"/>
<path d="M111.00,23.20 L572.00,345.50" stroke="#008b8b" stroke-width="2.5" stroke-dasharray="13.05 4.2 2.0 4.23"/>
</g>
<rect x="111.0" y="23.2" width="461.0" height="322.3" fill="none" stroke="#000" stroke-width="2.1"/>
<g font-family="Liberation Sans, sans-serif" font-size="32" fill="#000">
<text x="102" y="33.50" text-anchor="end">2</text>
<text x="102" y="194.65" text-anchor="end">1</text>
<text x="102" y="355.80" text-anchor="end">0</text>
<text x="111.00" y="379.3" text-anchor="middle">0</text>
<text x="341.50" y="379.3" text-anchor="middle">0.5</text>
<text x="572.00" y="379.3" text-anchor="middle">1</text>
<text x="341.5" y="411.8" text-anchor="middle" font-size="33">c</text>
<text transform="translate(53.1,184.5) rotate(-90)" text-anchor="middle" font-size="33">T</text>
</g>
<g font-family="Liberation Sans, sans-serif" font-size="26" fill="#000">
<text x="138 156.6 171 178 185.34" y="174.90">N=  2</text>
<text x="138 156.6 171 178 185.34" y="204.90">N=  3</text>
<text x="138 156.6 171 178 185.34" y="234.90">N=  4</text>
<text x="138 156.6 171 178 185.34" y="264.90">N=  5</text>
<text x="138 156.6 171.3 185.34" y="294.90">N=10</text>
<text x="141.4 158.85 174 181.26" y="324.90">N= ∞</text>
</g>
<g fill="none" stroke-width="2">
<path d="M217.7,166.9 H254.3" stroke="#ff4500" stroke-dasharray="6.6 6.2 2.3 6.2"/>
<path d="M217.7,196.9 H254.3" stroke="#646464" stroke-dasharray="2.1 3.27"/>
<path d="M217.7,226.9 H254.3" stroke="#3f68e2" stroke-dasharray="8.7 4.05"/>
<path d="M217.7,256.9 H254.3" stroke="#000"/>
<path d="M217.7,286.9 H254.3" stroke="#008000" stroke-dasharray="4.5 6.17"/>
<path d="M217.7,316.9 H254.3" stroke="#008b8b" stroke-dasharray="13.05 4.2 2.0 4.23"/>
</g>
<rect x="564.51" y="375.31" width="6.64" height="4.79" fill="#fff"/><rect x="573.98" y="375.31" width="6.47" height="4.79" fill="#fff"/>
<rect x="85.61" y="190.66" width="6.64" height="4.79" fill="#fff"/><rect x="95.08" y="190.66" width="6.47" height="4.79" fill="#fff"/>
<rect x="172.44" y="291.36" width="5.40" height="4.34" fill="#fff"/><rect x="180.14" y="291.36" width="5.26" height="4.34" fill="#fff"/>
</svg>
</body></html>
